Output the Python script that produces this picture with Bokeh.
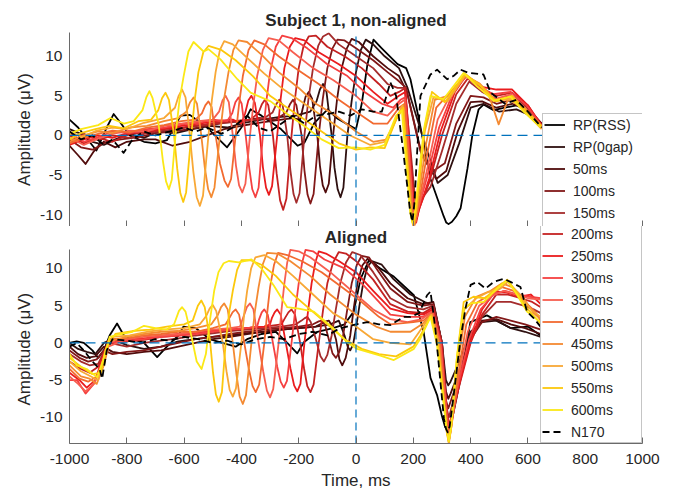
from bokeh.plotting import figure
from bokeh.models import Range1d, FixedTicker, Legend, LegendItem, Label, CustomJSTickFormatter
from bokeh.layouts import column
from bokeh.embed import file_html
from bokeh.resources import INLINE

NAMES = ["RP(RSS)", "RP(0gap)", "50ms", "100ms", "150ms", "200ms", "250ms", "300ms",
         "350ms", "400ms", "450ms", "500ms", "550ms", "600ms", "N170"]
COLORS = ["#000000", "#2e1010", "#500c0c", "#821818", "#a42c2c", "#c42222", "#ea1c1e", "#f54040",
          "#f75e50", "#f26a30", "#f48a32", "#f8a836", "#fcc80c", "#fbe816", "#000000"]

X_TICKS = [-1000, -800, -600, -400, -200, 0, 200, 400, 600, 800, 1000]
X_TICK_LABELS = ["-1000", "-800", "-600", "-400", "-200", "0", "200", "400", "600", "800", "1000"]
Y_TICKS = [-10, -5, 0, 5, 10]
Y_TICK_LABELS = ["-10", "-5", "0", "5", "10"]
TOP_YLIM = (-11.5, 13.0)
BOT_YLIM = (-13.5, 12.5)
ZERO_T = [-1000, 650]
ZERO_V = [0, 0]
VLINE_T = [0, 0]

# ---------------- top panel (non-aligned) : (time ms, amplitude uV) ----------------
TOP_RSS = [(-1000, 2), (-970, 1), (-906, -1.9), (-870, 1), (-846, 2.7), (-820, 1.5), (-790, 0), (-740, -0.8),
           (-700, -1), (-660, -0.6), (-612, 2.5), (-580, 2.6), (-520, 1), (-450, -1.5), (-400, 1), (-368, 3.3),
           (-330, 2.5), (-290, 1.5), (-262, 0.8), (-204, -1.3), (-180, -0.9), (-145, 1.6), (-99, 3.3), (-64, 2.1),
           (0, 0.8), (20, 4), (40, 9), (61, 12.1), (90, 11), (145, 9), (175, 8.5), (190, 7.1), (220, 2),
           (260, -5.5), (306, -10.2), (315, -11.0), (323, -11.2), (335, -10.9), (350, -10.2), (365, -9.2),
           (389, -4.2), (406, 0), (428, 3.3), (445, 3.9), (480, 3.2), (520, 3.5), (560, 3.8), (600, 3.2),
           (648, 1.5)]
TOP_0GAP = [(-1000, 0.8), (-960, 0.2), (-920, -0.8), (-880, -1.2), (-840, -0.5), (-790, 0.2), (-740, -0.3),
            (-690, 0.5), (-630, 0.3), (-570, 0.8), (-510, 1.2), (-450, 1.0), (-390, 1.6), (-330, 2.0), (-270, 2.3),
            (-210, 2.5), (-160, 3), (-138, 4.3), (-126, 5.8), (-115, 6.5), (-103, 5.5), (-85, 0), (-75, -4.1),
            (-64, -6.8), (-54, -7.8), (-44, -6.6), (-30, 0), (-15, 4.4), (0, 8), (17, 10.8), (34, 12.1),
            (60, 11.5), (100, 10), (150, 8.5), (180, 6), (240, -1), (285, -6), (320, -5), (360, -1), (400, 3.5),
            (445, 4), (500, 3), (560, 3.3), (610, 2.5), (648, 1.2)]
TOP_50 = [(-1000, -1.3), (-970, -2.5), (-944, -3.6), (-915, -2), (-880, -0.8), (-840, -1.5), (-800, -0.8),
          (-740, -0.5), (-700, -0.5), (-640, -1.3), (-580, -0.8), (-520, 0), (-460, 0.8), (-400, 1.2), (-340, 1.6),
          (-280, 1.9), (-220, 2.2), (-195, 2.0), (-186, 3.4), (-176, 4.9), (-165, 5.5), (-153, 4.6), (-135, 0),
          (-126, -3.8), (-116, -6.3), (-106, -7.2), (-95, -6.1), (-80, 0), (-66, 4.6), (-50, 8.5), (-32, 11.0),
          (-15, 12.2), (10, 11.8), (60, 10), (110, 8.5), (150, 7.5), (178, 5.5), (230, -2.5), (280, -5.5),
          (315, -4.5), (355, 0.5), (400, 4.2), (440, 4.3), (490, 3.5), (545, 4), (600, 3.3), (648, 1.5)]
TOP_100 = [(-1000, -0.5), (-960, -1.5), (-920, -1.8), (-870, -0.8), (-820, -0.5), (-760, -0.2), (-700, 0.3),
           (-640, 0.5), (-580, 0.8), (-520, 1.2), (-460, 1.6), (-400, 1.8), (-340, 2.2), (-280, 2.0), (-243, 2.9),
           (-231, 3.9), (-220, 4.5), (-208, 3.8), (-190, 0), (-180, -4.4), (-169, -7.5), (-159, -8.6),
           (-148, -7.4), (-130, 0), (-116, 4.6), (-100, 8.5), (-82, 11.0), (-65, 12.1), (-40, 12), (0, 11),
           (60, 9.5), (110, 8), (145, 7), (175, 6), (225, -2), (270, -4.5), (310, -3.5), (350, 1.5), (400, 5),
           (445, 4.8), (490, 4), (545, 4.5), (600, 3.5), (648, 1.5)]
TOP_150 = [(-1000, -1.0), (-950, 0.2), (-900, -0.6), (-850, 0), (-790, -0.3), (-730, 0.3), (-670, 0.6),
           (-610, 0.9), (-550, 1.2), (-490, 1.5), (-430, 1.7), (-370, 1.9), (-320, 2.2), (-291, 2.9), (-279, 3.9),
           (-268, 4.5), (-256, 3.8), (-240, 0), (-229, -4.4), (-218, -7.4), (-208, -8.5), (-197, -7.3), (-180, 0),
           (-166, 4.6), (-150, 8.5), (-132, 11.3), (-115, 12.5), (-95, 12.9), (-60, 11.5), (0, 10), (60, 8.5),
           (110, 6.5), (145, 6), (170, 6), (206, -7.9), (215, -9), (225, -8.2), (260, -6.5), (300, -2), (350, 4),
           (395, 6.8), (440, 5.5), (490, 4.6), (545, 5), (600, 3.6), (648, 1.2)]
TOP_200 = [(-1000, 0.0), (-950, -1.0), (-900, -0.3), (-850, -0.8), (-790, 0.2), (-730, 0.4), (-670, 0.8),
           (-610, 1.0), (-550, 1.3), (-490, 1.6), (-430, 1.8), (-370, 2.0), (-341, 2.8), (-329, 3.9), (-318, 4.5),
           (-306, 3.8), (-290, 0), (-277, -4.8), (-265, -8.2), (-254, -9.4), (-243, -8.0), (-225, 0), (-213, 4.6),
           (-200, 8.5), (-183, 11.3), (-165, 12.5), (-140, 12.6), (-100, 11.2), (-40, 10), (20, 8.5), (80, 6.5),
           (120, 5), (150, 5.5), (172, 6), (204, -9.2), (212, -10.5), (221, -9.2), (255, -6), (300, 0),
           (350, 5.2), (390, 7.2), (435, 6), (490, 5), (545, 5.4), (600, 3.8), (648, 1.1)]
TOP_250 = [(-1000, -1.2), (-950, -0.5), (-900, 0.0), (-850, -0.3), (-790, 0.4), (-730, 0.6), (-670, 0.9),
           (-610, 1.2), (-550, 1.5), (-490, 1.8), (-430, 2.0), (-400, 1.5), (-387, 2.8), (-376, 4.4), (-365, 5),
           (-353, 4.1), (-335, 0), (-325, -4.0), (-314, -6.6), (-304, -7.5), (-293, -6.4), (-275, 0), (-263, 4.6),
           (-250, 8.5), (-231, 11.2), (-212, 12.3), (-180, 12), (-130, 10.5), (-60, 9), (0, 7.5), (60, 5.5),
           (110, 4), (150, 5), (172, 5.5), (202, -9.7), (210, -11), (219, -9.5), (255, -5.5), (295, 0.5),
           (345, 5.5), (385, 7.6), (430, 6.2), (490, 5.8), (545, 5.8), (600, 3.8), (648, 1.3)]
TOP_300 = [(-1000, 0.3), (-950, -0.8), (-900, -0.2), (-850, 0.5), (-790, 0.3), (-730, 0.8), (-670, 1.0),
           (-610, 1.4), (-550, 1.6), (-500, 2.0), (-450, 1.8), (-432, 2.8), (-421, 4.2), (-410, 4.8), (-399, 4.0),
           (-385, 0), (-373, -4.0), (-362, -6.8), (-351, -7.8), (-340, -6.6), (-325, 0), (-313, 4.3), (-300, 8),
           (-280, 11.2), (-258, 12.6), (-225, 12.3), (-170, 11), (-100, 9), (-30, 7.5), (30, 5.5), (90, 4),
           (130, 3.5), (155, 4.5), (172, 4.8), (200, -9.5), (208, -10.8), (217, -9.3), (250, -5), (290, 1),
           (340, 5.5), (385, 7.6), (430, 6), (480, 5.2), (540, 5.5), (595, 3.8), (648, 1.2)]
TOP_350 = [(-1000, -0.3), (-950, -1.2), (-900, -0.4), (-850, 0.2), (-790, 0.6), (-730, 0.5), (-670, 1.2),
           (-610, 1.5), (-550, 1.8), (-500, 2.0), (-478, 3.0), (-466, 4.4), (-455, 5), (-444, 4.2), (-430, 0),
           (-419, -3.8), (-408, -6.3), (-397, -7.2), (-386, -6.1), (-370, 0), (-358, 4.0), (-345, 7.5),
           (-325, 10.8), (-305, 12.3), (-270, 12), (-220, 10.5), (-150, 8.5), (-80, 7), (0, 5), (60, 3),
           (110, 2.5), (150, 4), (170, 4.5), (199, -9.7), (207, -11), (216, -9.4), (250, -4), (285, 2),
           (335, 5.5), (385, 7.4), (435, 6.2), (485, 4.6), (540, 5.2), (590, 3.5), (648, 1)]
TOP_400 = [(-1000, -1.0), (-950, -0.3), (-900, 0.2), (-850, 0.6), (-790, 0.4), (-730, 1.0), (-670, 1.3),
           (-610, 1.8), (-560, 2.0), (-538, 2.8), (-526, 3.8), (-515, 4.3), (-504, 3.6), (-490, 0), (-475, -3.5),
           (-459, -5.7), (-447, -6.5), (-436, -5.5), (-420, 0), (-408, 4.0), (-395, 7.5), (-375, 10.8),
           (-355, 12), (-320, 11.5), (-270, 10), (-200, 8.2), (-130, 6.5), (-60, 4.5), (0, 3), (60, 1.5),
           (110, 1.5), (150, 3.5), (170, 4), (197, -10), (205, -11.3), (214, -9.7), (245, -3), (280, 3.5),
           (330, 5.5), (385, 7.5), (430, 6.5), (480, 4.5), (540, 4.8), (590, 3.4), (648, 0.9)]
TOP_450 = [(-1000, -0.8), (-950, 0), (-900, 0.5), (-850, 0.3), (-790, 1.0), (-730, 1.2), (-670, 1.8),
           (-620, 2.2), (-592, 3.0), (-579, 4.2), (-567, 4.8), (-555, 4.0), (-540, 0), (-528, -4.0), (-516, -6.8),
           (-505, -7.8), (-494, -6.6), (-475, 0), (-461, 4.5), (-445, 8), (-428, 10.8), (-410, 12), (-380, 11.8),
           (-330, 10.2), (-270, 8), (-200, 6), (-140, 4), (-70, 2.5), (0, 0.5), (60, -0.8), (110, -0.5),
           (145, 2.5), (165, 3.8), (195, -9.7), (203, -11), (212, -9.4), (245, -1), (275, 4.5), (320, 5),
           (380, 7.6), (430, 6.6), (460, 5.5), (498, 1.4), (530, 4.5), (590, 3.5), (648, 1)]
TOP_500 = [(-1000, 0.5), (-955, -0.2), (-905, 0.6), (-850, 1.0), (-800, 0.8), (-740, 1.6), (-670, 2.2),
           (-632, 3.5), (-619, 5.0), (-607, 5.8), (-595, 4.8), (-580, 0), (-568, -4.5), (-556, -7.8), (-545, -8.9),
           (-534, -7.6), (-515, 0), (-503, 4.5), (-490, 8), (-475, 10.8), (-460, 11.9), (-430, 11.5), (-380, 9.8),
           (-320, 7.8), (-260, 6), (-200, 4.5), (-140, 3), (-80, 1.5), (-20, 0), (50, -1.2), (100, -0.8),
           (140, 2), (162, 3.8), (192, -10.1), (200, -11.5), (209, -9.9), (240, 0.5), (270, 4.8), (320, 4.3),
           (380, 7.5), (430, 6.5), (480, 4.3), (540, 4.6), (590, 3.0), (648, 0.8)]
TOP_550 = [(-1000, -0.5), (-960, 0.3), (-910, 0.8), (-860, 1.2), (-810, 0.9), (-760, 1.8), (-715, 2.0),
           (-690, 3.2), (-677, 4.7), (-665, 5.4), (-653, 4.5), (-635, 0), (-624, -4.2), (-613, -7.3), (-603, -8.4),
           (-593, -7.2), (-575, 0), (-563, 4.5), (-550, 8), (-533, 10.5), (-515, 11.3), (-470, 10.8), (-420, 9.5),
           (-360, 7.5), (-300, 5), (-240, 3.5), (-180, 2), (-120, 0.5), (-60, -1), (0, -1.8), (50, -1.5),
           (100, -1.6), (140, 2), (165, 3.5), (192, -9.9), (200, -11.2), (209, -9.6), (240, 1), (265, 5.5),
           (310, 4.2), (380, 7.8), (430, 6.4), (490, 4.3), (545, 5), (590, 3.2), (648, 1.2)]
TOP_600 = [(-1000, 0.2), (-960, 0.8), (-900, 1.3), (-857, 2.2), (-810, 1.5), (-776, 1.8), (-745, 3.2),
           (-732, 4.8), (-721, 5.6), (-710, 4.7), (-689, 1.4), (-674, -3.2), (-663, -5.8), (-653, -6.8),
           (-643, -5.6), (-630, 0), (-616, 4.5), (-602, 7.4), (-585, 10.6), (-567, 11.8), (-532, 10.6),
           (-515, 10.9), (-473, 9.6), (-414, 7.1), (-368, 5.4), (-298, 4.3), (-240, 2.7), (-180, 1.2),
           (-120, -0.5), (-60, -1.6), (0, -1.5), (50, -1.8), (100, -1.2), (140, 2.5), (160, 3.2), (189, -9.7),
           (197, -11), (206, -9.5), (237, 0.8), (260, 5), (306, 4.6), (376, 7.9), (423, 6.2), (480, 4.4),
           (539, 4.9), (585, 3), (645, 1)]
TOP_N170 = [(-1000, 0.5), (-960, -0.5), (-920, 0), (-880, -1.2), (-850, -0.5), (-811, -2.2), (-780, -0.5),
            (-740, 0.5), (-700, 0), (-650, 0.5), (-600, 1.0), (-560, 0.5), (-520, 1), (-470, 0.2), (-430, 1),
            (-380, 2.5), (-340, 1), (-300, 0.5), (-260, 1.5), (-220, 2.5), (-180, 1.5), (-140, 2.5), (-100, 2.7),
            (-60, 3), (-20, 2.5), (20, 3.3), (60, 3.0), (90, 3.0), (120, 6.7), (140, 5), (165, -2), (189, -9.6),
            (197, -10.9), (204, -8.5), (212, -3), (225, 5), (260, 7.7), (283, 8.3), (318, 7.1), (340, 7.5),
            (365, 8.3), (393, 7.9), (445, 7.7), (470, 5.4), (520, 4), (560, 4.5), (600, 3), (648, 1)]

# ---------------- bottom panel (aligned) ----------------
BOT_RSS = [(-1000, 0), (-975, 0.2), (-950, 0), (-920, -1.0), (-900, -2.0), (-880, -1.0), (-860, 1.0),
           (-834, 2.6), (-810, 1.0), (-780, 0.5), (-740, 0), (-694, -1.9), (-660, -0.5), (-620, 1.0),
           (-602, 2.2), (-560, 2.0), (-510, 0.5), (-467, 0), (-420, -0.5), (-380, 0.5), (-330, 1.2), (-280, 1.5),
           (-240, 0), (-205, -1.4), (-182, 0.1), (-135, 1.5), (-80, 2.0), (-40, 2.5), (-8, 4.2), (16, 8.6),
           (45, 11.1), (85, 10.0), (132, 8.9), (202, 6.4), (236, 1.5), (260, -4.7), (283, -7.0), (300, -9.8),
           (311, -11.3), (318, -11.7), (326, -11.3), (338, -9.8), (353, -7.0), (376, -2.8), (399, 2.8),
           (457, 3.7), (539, 2.0), (600, 2.2), (644, 1.0)]
BOT_0GAP = [(-1000, 0), (-970, -0.8), (-940, -1.2), (-910, -1.5), (-880, 0), (-850, 0.5), (-800, -0.3),
            (-740, -0.8), (-680, -0.5), (-620, 0.2), (-560, 0.5), (-500, 0.8), (-440, 1.0), (-380, 1.3),
            (-320, 1.5), (-260, 1.8), (-200, 2.0), (-140, 2.2), (-90, 2.5), (-60, 3.0), (-40, 1.0), (-28, -0.6),
            (-20, -1.0), (-10, -0.2), (0, 2.0), (12, 5.0), (25, 8.0), (40, 10.2), (55, 11.0), (90, 10.5),
            (130, 8.6), (190, 6.5), (240, 5.5), (272, 5.0), (300, 0), (314, -5.0), (322, -5.7), (330, -5.2),
            (355, -3.0), (400, 1.5), (440, 2.8), (490, 3.0), (540, 2.0), (590, 1.5), (645, 0.8)]
BOT_50 = [(-1000, -0.5), (-970, -1.5), (-940, -2.0), (-910, -1.8), (-880, -0.5), (-850, -1.2), (-800, -1.5),
          (-740, -1.2), (-680, -1.0), (-620, -0.5), (-560, 0), (-500, 0.5), (-440, 0.8), (-380, 1.2), (-320, 1.5),
          (-260, 1.8), (-200, 2.0), (-140, 2.2), (-105, 2.9), (-95, 3.0), (-84, 2.3), (-70, 0.5), (-58, -2.2),
          (-48, -3.0), (-36, -2.0), (-20, 1.0), (-8, 4.6), (5, 8.0), (22, 10.4), (40, 11.3), (70, 10.5),
          (120, 8.0), (180, 6.0), (235, 5.2), (270, 5.5), (300, 0), (314, -6.5), (322, -7.5), (330, -6.8),
          (358, -4.0), (400, 1.0), (440, 3.0), (490, 3.2), (540, 2.5), (590, 2.0), (645, 1.2)]
BOT_100 = [(-1000, -1.0), (-965, -2.0), (-935, -2.5), (-905, -2.2), (-880, -1.0), (-850, -1.5), (-800, -1.2),
           (-740, -1.0), (-680, -0.5), (-620, 0), (-560, 0.5), (-500, 0.8), (-440, 1.2), (-380, 1.5), (-320, 1.8),
           (-260, 2.0), (-200, 2.2), (-150, 2.5), (-130, 2.9), (-120, 3.0), (-108, 2.4), (-95, 0.5), (-82, -1.4),
           (-70, -2.0), (-58, -1.2), (-45, 1.0), (-30, 4.6), (-15, 8.0), (3, 10.5), (20, 11.7), (45, 11.5),
           (80, 9.5), (120, 7.3), (180, 5.5), (235, 5.0), (270, 5.2), (300, 0), (314, -7.7), (322, -8.8),
           (330, -7.9), (360, -4.5), (400, 0.5), (440, 2.8), (490, 3.5), (540, 3.0), (590, 2.5), (645, 1.8)]
BOT_150 = [(-1000, -1.5), (-960, -2.5), (-930, -3.0), (-900, -2.8), (-880, -1.2), (-860, 0), (-800, -0.5),
           (-740, 0), (-680, 0.3), (-620, 0.6), (-560, 1.0), (-500, 1.3), (-440, 1.6), (-380, 1.8), (-320, 2.0),
           (-260, 2.2), (-210, 2.5), (-190, 3.0), (-180, 3.3), (-170, 3.5), (-158, 2.8), (-140, 0.5), (-124, -1.8),
           (-112, -2.5), (-100, -1.6), (-85, 1.0), (-70, 4.6), (-55, 8.0), (-35, 10.8), (-13, 12.2), (15, 11.8),
           (60, 9.5), (120, 6.0), (180, 4.8), (235, 4.5), (270, 5.0), (300, 0), (316, -8.7), (324, -10.0),
           (332, -8.9), (362, -5.0), (400, 0.5), (440, 3.5), (490, 5.5), (540, 5.5), (585, 5.0), (620, 4.5),
           (645, 4.0)]
BOT_200 = [(-1000, -2.5), (-960, -3.5), (-930, -4.0), (-900, -3.2), (-880, -1.5), (-860, 0), (-800, 0.2),
           (-740, 0.4), (-680, 0.8), (-620, 1.0), (-560, 1.3), (-500, 1.6), (-440, 1.8), (-380, 2.0), (-320, 2.2),
           (-260, 2.5), (-247, 3.4), (-236, 4.1), (-225, 4.5), (-213, 3.8), (-195, 0), (-181, -3.5), (-170, -5.8),
           (-159, -6.6), (-148, -5.6), (-130, 0), (-115, 4.4), (-100, 8.0), (-80, 10.8), (-60, 12.2), (-35, 12.0),
           (0, 11.0), (60, 8.5), (120, 5.2), (180, 4.2), (235, 4.0), (268, 4.8), (298, 0), (318, -9.6),
           (326, -11.0), (334, -9.7), (362, -5.5), (400, 0), (440, 3.8), (490, 6.5), (530, 6.5), (575, 6.0),
           (615, 5.5), (645, 4.8)]
BOT_250 = [(-1000, -4.0), (-965, -5.0), (-940, -6.0), (-910, -5.0), (-885, -2.0), (-865, 0.3), (-800, 0.5),
           (-740, 0.6), (-680, 0.9), (-620, 1.2), (-560, 1.4), (-500, 1.6), (-440, 1.8), (-380, 2.0), (-320, 2.2),
           (-300, 2.5), (-293, 3.4), (-284, 4.1), (-275, 4.5), (-263, 3.8), (-245, 0), (-229, -3.4), (-216, -5.7),
           (-205, -6.5), (-194, -5.5), (-180, 0), (-167, 4.4), (-155, 8.0), (-142, 10.8), (-130, 12.3),
           (-105, 12.0), (-60, 11.0), (0, 9.5), (60, 7.0), (120, 4.6), (180, 4.0), (235, 3.8), (268, 4.5),
           (297, 0), (318, -10.4), (326, -12.0), (334, -10.5), (360, -5.5), (398, 0), (440, 4.5), (485, 6.9),
           (525, 6.8), (570, 6.2), (610, 6.5), (645, 5.2)]
BOT_300 = [(-1000, -5.0), (-973, -5.0), (-944, -6.8), (-915, -5.5), (-885, -2.5), (-865, 0), (-800, 0.3),
           (-740, 0.5), (-680, 0.8), (-620, 1.0), (-560, 1.2), (-500, 1.5), (-440, 1.8), (-380, 2.0), (-345, 2.2),
           (-338, 3.2), (-329, 4.1), (-320, 4.5), (-308, 3.8), (-290, 0), (-275, -3.2), (-263, -5.2), (-252, -6.0),
           (-241, -5.1), (-225, 0), (-212, 4.4), (-200, 8.0), (-188, 10.8), (-176, 12.5), (-150, 12.3),
           (-110, 11.2), (-40, 10.0), (20, 8.0), (80, 5.5), (120, 3.8), (180, 3.5), (235, 3.5), (268, 4.3),
           (296, 0), (318, -10.0), (326, -11.5), (334, -10.0), (360, -5.0), (395, 0.5), (435, 4.5), (480, 6.5),
           (520, 7.0), (565, 6.5), (605, 6.2), (645, 6.0)]
BOT_350 = [(-1000, -4.5), (-970, -5.5), (-944, -6.5), (-915, -5.5), (-885, -3.0), (-865, -0.5), (-800, 0.5),
           (-740, 0.8), (-680, 1.0), (-620, 1.2), (-560, 1.5), (-500, 1.8), (-440, 2.0), (-405, 2.2), (-392, 3.6),
           (-381, 4.8), (-370, 5.3), (-358, 4.5), (-340, 0), (-324, -3.8), (-311, -6.4), (-300, -7.3),
           (-289, -6.2), (-270, 0), (-260, 4.4), (-250, 8.0), (-240, 10.8), (-229, 12.5), (-200, 12.3),
           (-160, 11.5), (-90, 9.5), (0, 6.5), (60, 4.5), (120, 3.2), (180, 2.8), (230, 3.2), (266, 4.2), (294, 0),
           (318, -10.9), (326, -12.5), (334, -10.8), (358, -4.5), (390, 1.5), (430, 5.0), (475, 6.3), (515, 7.0),
           (560, 6.5), (600, 6.0), (645, 5.8)]
BOT_400 = [(-1000, -3.5), (-965, -4.8), (-935, -5.2), (-905, -4.5), (-880, -2.5), (-860, 0.5), (-800, 0.6),
           (-740, 1.0), (-680, 1.2), (-620, 1.5), (-560, 1.5), (-500, 2.0), (-455, 2.5), (-441, 3.4), (-431, 4.1),
           (-420, 4.5), (-408, 3.8), (-390, 0), (-374, -3.5), (-361, -5.8), (-350, -6.6), (-338, -5.6), (-320, 0),
           (-310, 4.0), (-300, 7.5), (-286, 10.5), (-272, 12.1), (-240, 11.8), (-190, 11.0), (-120, 9.5),
           (-50, 7.5), (20, 5.5), (80, 3.5), (120, 2.5), (200, 2.8), (235, 3.0), (266, 4.0), (292, 0),
           (318, -11.2), (326, -12.8), (334, -11.0), (358, -4.0), (385, 2.5), (425, 5.5), (470, 6.5), (510, 7.5),
           (550, 7.0), (590, 5.5), (625, 4.2), (645, 3.0)]
BOT_450 = [(-1000, -3.0), (-960, -4.5), (-930, -4.8), (-905, -5.5), (-880, -3.0), (-860, 0.2), (-800, 0.8),
           (-740, 1.2), (-680, 1.5), (-620, 1.6), (-560, 2.0), (-505, 2.5), (-483, 3.7), (-471, 4.8), (-460, 5.3),
           (-448, 4.5), (-430, 0), (-417, -4.3), (-406, -7.2), (-395, -8.2), (-384, -7.0), (-365, 0), (-353, 4.2),
           (-340, 7.5), (-325, 10.6), (-310, 12.1), (-275, 12.0), (-230, 11.0), (-160, 9.0), (-90, 6.5), (0, 3.8),
           (70, 2.2), (120, 1.5), (190, 1.5), (230, 2.5), (265, 3.8), (290, 0), (316, -11.6), (324, -13.3),
           (332, -11.4), (355, -3.0), (380, 3.5), (420, 6.2), (470, 7.0), (510, 8.0), (545, 7.5), (585, 6.0),
           (620, 4.0), (645, 3.2)]
BOT_500 = [(-1000, -2.5), (-960, -3.8), (-925, -4.5), (-900, -5.0), (-875, -1.0), (-850, 0.8), (-790, 1.0),
           (-730, 1.5), (-670, 1.8), (-600, 2.0), (-545, 2.5), (-523, 3.6), (-511, 4.6), (-500, 5.1), (-488, 4.3),
           (-465, 0), (-452, -3.8), (-441, -6.3), (-430, -7.2), (-419, -6.1), (-400, 0), (-390, 4.0), (-380, 7.0),
           (-366, 10.0), (-351, 11.5), (-320, 11.8), (-280, 11.0), (-220, 9.0), (-150, 6.5), (-80, 4.0), (0, 2.2),
           (60, 0.5), (120, 0), (190, -0.2), (230, 2.0), (263, 3.8), (287, 0), (316, -11.8), (324, -13.5),
           (332, -11.5), (353, -2.5), (378, 4.5), (420, 6.0), (460, 6.8), (500, 7.2), (530, 8.2), (570, 6.6),
           (610, 4.5), (645, 3.5)]
BOT_550 = [(-1000, -2.0), (-960, -3.2), (-920, -4.2), (-890, -4.0), (-870, -0.5), (-840, 1.2), (-780, 1.6),
           (-720, 1.8), (-660, 2.2), (-600, 2.5), (-570, 3.0), (-552, 5.0), (-540, 5.7), (-528, 4.8), (-510, 0.5),
           (-499, -4.0), (-489, -6.9), (-479, -7.9), (-468, -6.6), (-455, 0), (-443, 4.0), (-430, 7.0),
           (-415, 9.8), (-400, 11.1), (-368, 11.1), (-330, 10.5), (-280, 9.0), (-220, 6.5), (-160, 4.5),
           (-100, 2.5), (-40, 0.5), (20, -0.8), (80, -1.5), (140, -1.8), (200, -0.5), (225, 1.0), (262, 3.6),
           (285, 0), (316, -11.5), (324, -13.2), (332, -11.3), (352, -2.0), (376, 5.5), (410, 6.2), (450, 6.0),
           (495, 7.5), (528, 8.5), (565, 6.5), (600, 4.5), (645, 2.6)]
BOT_600 = [(-1000, -1.5), (-975, -3.0), (-940, -3.5), (-903, -4.6), (-880, -2.0), (-860, 0.8), (-820, 1.2),
           (-780, 1.5), (-740, 2.3), (-700, 2.0), (-660, 1.8), (-635, 2.5), (-618, 4.3), (-607, 4.8), (-595, 4.2),
           (-575, 1.0), (-556, -2.5), (-539, -3.5), (-524, -1.5), (-510, 3.0), (-495, 7.0), (-480, 9.5),
           (-462, 10.7), (-444, 11.0), (-410, 10.8), (-365, 11.2), (-330, 10.0), (-287, 7.7), (-240, 4.8),
           (-200, 4.6), (-147, 4.2), (-80, 2.0), (-31, 0.1), (4, -0.8), (85, -1.7), (132, -2.3), (202, -0.8),
           (225, 0.6), (260, 3.5), (283, -0.3), (316, -11.5), (324, -13.2), (332, -11.2), (353, -1.7),
           (376, 4.6), (400, 5.3), (446, 5.5), (493, 7.3), (528, 8.4), (563, 6.4), (597, 4.2), (644, 2.8)]
BOT_N170 = [(-1000, -0.5), (-975, 0), (-950, -1), (-920, -2.5), (-895, -3.5), (-886, -4.8), (-870, -1),
            (-850, 0.5), (-800, 0.3), (-750, 0), (-700, 0.5), (-650, 0.3), (-600, 0.8), (-550, 0.5), (-500, 0),
            (-450, 0.3), (-400, -0.2), (-350, 0.5), (-300, 0.8), (-250, 0.5), (-200, 1.2), (-150, 1.5),
            (-100, 1.0), (-60, 1.9), (0, 2.5), (39, 2.8), (80, 2.5), (120, 2.4), (167, 3.5), (190, 3.5),
            (220, 4), (248, 6.4), (260, 6.9), (277, 1.9), (307, -10.2), (314, -11.5), (320, -12), (327, -11.2),
            (341, -7), (365, 0.6), (382, 4.6), (400, 7.8), (423, 8.2), (452, 7.3), (481, 8.2), (516, 8.6),
            (539, 8.2), (574, 7.5), (597, 4.2), (621, 3.3), (650, 1.9)]

TOP_SERIES = [TOP_RSS, TOP_0GAP, TOP_50, TOP_100, TOP_150, TOP_200, TOP_250, TOP_300, TOP_350,
              TOP_400, TOP_450, TOP_500, TOP_550, TOP_600, TOP_N170]
BOT_SERIES = [BOT_RSS, BOT_0GAP, BOT_50, BOT_100, BOT_150, BOT_200, BOT_250, BOT_300, BOT_350,
              BOT_400, BOT_450, BOT_500, BOT_550, BOT_600, BOT_N170]

FONT = "Liberation Sans"
TEXT = "#262626"
AXIS = "#6a6a6a"
ZBLUE = "#0072BD"
NBSP = "\u00a0"


def style(p, with_xlabels, ylabel):
    p.outline_line_color = None
    p.xgrid.visible = False
    p.ygrid.visible = False
    p.background_fill_color = "white"
    p.border_fill_color = "white"
    p.title.text_font = FONT
    p.title.text_font_size = "17px"
    p.title.text_font_style = "bold"
    p.title.text_color = TEXT
    p.title.align = "center"
    p.title.standoff = 6
    for ax in (p.xaxis[0], p.yaxis[0]):
        ax.axis_line_color = AXIS
        ax.major_tick_line_color = AXIS
        ax.minor_tick_line_color = None
        ax.major_tick_out = 0
        ax.major_label_text_font = FONT
        ax.major_label_text_font_size = "15.5px"
        ax.major_label_text_color = TEXT
        ax.axis_label_text_font = FONT
        ax.axis_label_text_font_size = "17px"
        ax.axis_label_text_font_style = "normal"
        ax.axis_label_text_color = TEXT
    xa = p.xaxis[0]
    xa.ticker = FixedTicker(ticks=X_TICKS)
    xa.major_tick_in = 6
    if with_xlabels:
        xa.major_label_overrides = dict(zip(X_TICKS, X_TICK_LABELS))
        xa.major_label_standoff = 10
        xa.axis_label = "Time, ms"
        xa.axis_label_standoff = 4
    else:
        xa.formatter = CustomJSTickFormatter(code="return ''")
        xa.major_label_text_font_size = "0px"
        xa.major_label_standoff = 0
    ya = p.yaxis[0]
    ya.ticker = FixedTicker(ticks=Y_TICKS)
    ya.major_label_overrides = dict(zip(Y_TICKS, Y_TICK_LABELS))
    ya.major_tick_in = 0
    ya.major_label_standoff = 7
    ya.axis_label = ylabel
    ya.axis_label_standoff = 3


def draw(p, series, ylim):
    rs = []
    for i, pts in enumerate(series):
        t = [a for a, b in pts]
        v = [b for a, b in pts]
        dash = "7 4" if NAMES[i] == "N170" else "solid"
        rs.append(p.line(t, v, line_color=COLORS[i], line_width=1.8, line_dash=dash, line_join="round"))
    p.line(ZERO_T, ZERO_V, line_color=ZBLUE, line_width=1.2, line_dash="10 6")
    p.line(VLINE_T, list(ylim), line_color=ZBLUE, line_width=1.2, line_dash="8 5")
    return rs


def make_legend(items, location):
    return Legend(items=items, location=location, margin=0, padding=1, spacing=3,
                  glyph_width=21, glyph_height=19, label_height=19, label_width=69, label_standoff=8,
                  label_text_font=FONT, label_text_font_size="14px", label_text_color=TEXT,
                  border_line_color="#8c8c8c", border_line_width=1,
                  background_fill_color="white", background_fill_alpha=1.0)


# top panel: its frame reaches the bottom of its canvas
top = figure(width=669, height=226, x_range=Range1d(-1000, 1000), y_range=Range1d(*TOP_YLIM),
             output_backend="svg", toolbar_location=None, title="Subject 1, non-aligned",
             min_border_left=69, min_border_right=27, min_border_top=32, min_border_bottom=0)
style(top, False, "Amplitude (μV)")
top_rs = draw(top, TOP_SERIES, TOP_YLIM)
dummy_top = top.line(x=[], y=[], line_alpha=0)
top_items = [LegendItem(label=NAMES[i], renderers=[top_rs[i]]) for i in range(5)]
top_items.append(LegendItem(label=" ", renderers=[dummy_top]))
top.add_layout(make_legend(top_items, (473, -20)))

# bottom panel: its frame reaches the top of its canvas, the title is drawn inside it
bot = figure(width=669, height=267, x_range=Range1d(-1000, 1000), y_range=Range1d(BOT_YLIM[0], 15.63),
             output_backend="svg", toolbar_location=None,
             min_border_left=69, min_border_right=27, min_border_top=0, min_border_bottom=50)
style(bot, True, "Amplitude (μV)" + NBSP * 6)
bot.yaxis[0].bounds = BOT_YLIM
bot_rs = draw(bot, BOT_SERIES, BOT_YLIM)
bot.add_layout(Label(x=0, y=14.2, text="Aligned", text_align="center", text_baseline="middle",
                     text_font=FONT, text_font_size="17px", text_font_style="bold", text_color=TEXT))
dummy_bot = bot.line(x=[], y=[], line_alpha=0)
bot_items = [LegendItem(label=" ", renderers=[dummy_bot])]
bot_items += [LegendItem(label=NAMES[i], renderers=[bot_rs[i]]) for i in range(5, 15)]
bot.add_layout(make_legend(bot_items, "bottom_right"))

layout = column(top, bot, spacing=0)
open("out.html", "w").write(file_html(layout, INLINE, title="Subject 1"))
